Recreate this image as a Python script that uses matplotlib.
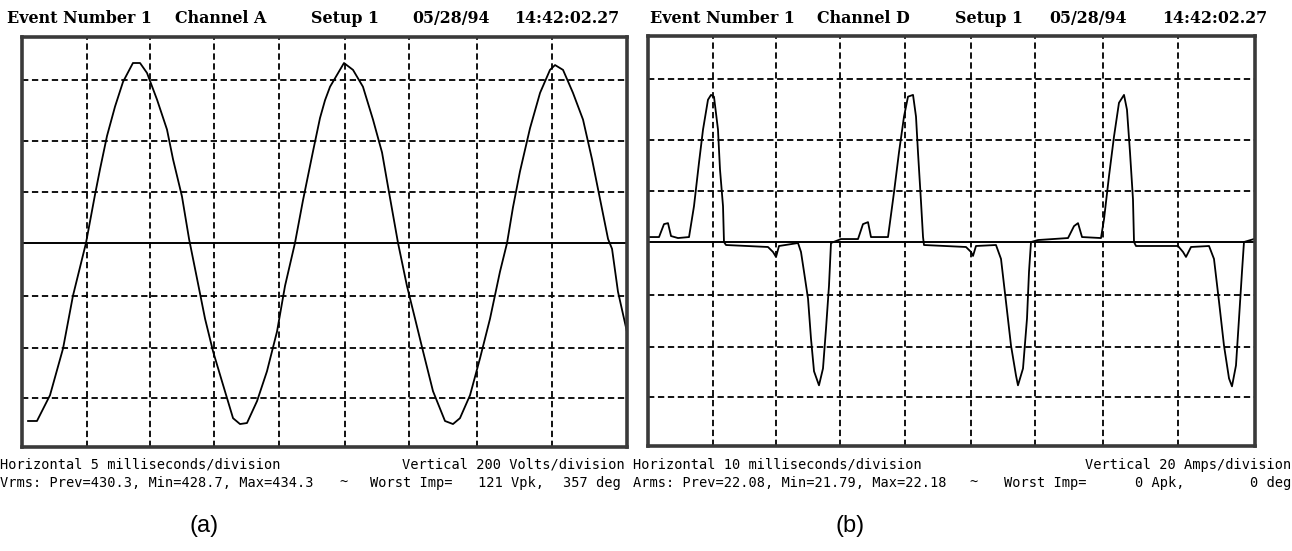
import numpy as np
import matplotlib
matplotlib.use('Agg')
import matplotlib.pyplot as plt

# --- Dados ---
# (a) tensao, canal A: tempo em ms, tensao em V (200 V/div, 5 ms/div)
tempo_a = [0.47, 1.16, 2.17, 3.18, 3.95, 4.96, 5.66, 6.05, 6.59, 7.21, 7.83, 8.60,
           9.15, 9.69, 10.47, 11.24, 11.71, 12.40, 12.95, 13.57, 14.19, 14.81, 15.50,
           16.36, 16.90, 17.44, 18.22, 18.99, 19.77, 20.39, 21.16, 21.78, 22.56, 23.10,
           23.49, 23.88, 24.96, 25.66, 26.43, 27.21, 27.91, 28.37, 29.15, 29.84, 30.47,
           31.09, 31.86, 32.79, 33.41, 33.95, 34.73, 35.50, 36.28, 37.05, 37.60, 38.06,
           38.60, 39.38, 40.16, 40.93, 41.32, 41.94, 42.71, 43.49, 44.19, 44.81, 45.43,
           45.74, 46.20, 46.98]
tensao_a = [-698, -698, -597, -414, -207, 0, 190, 290, 420, 535, 632, 706,
            706, 667, 562, 445, 328, 183, 16, -140, -297, -425, -542,
            -687, -710, -706, -620, -503, -347, -168, 0, 167, 360, 490,
            560, 613, 706, 679, 613, 484, 355, 222, 0, -168, -297,
            -425, -581, -698, -710, -687, -597, -453, -297, -113, 0, 140,
            280, 450, 589, 679, 698, 679, 589, 484, 328, 172, 16,
            -23, -191, -367]

# (b) corrente, canal D: tempo em ms, corrente em A (20 A/div, 10 ms/div)
tempo_b = [0.00, 1.71, 2.48, 3.10, 3.57, 4.65, 6.36, 7.13, 7.91, 8.53, 9.30, 9.77,
           10.23, 10.85, 11.16, 11.63, 11.78, 12.09, 18.60, 19.38, 19.85, 20.31, 23.26,
           23.72, 24.19, 24.81, 25.27, 25.74, 26.51, 27.13, 27.60, 28.06, 28.37, 29.92,
           32.56, 33.33, 34.11, 34.57, 37.21, 38.14, 38.91, 39.69, 40.31, 41.09, 41.55,
           41.86, 42.33, 42.64, 42.79, 49.30, 50.08, 50.39, 50.85, 53.95, 54.73, 55.50,
           56.28, 57.05, 57.36, 58.14, 58.76, 59.07, 59.38, 60.47, 65.12, 66.05, 66.67,
           67.29, 70.23, 70.70, 71.47, 72.25, 73.02, 73.80, 74.26, 74.73, 75.19, 75.35,
           75.66, 82.17, 82.95, 83.41, 84.19, 86.98, 87.75, 88.53, 89.30, 90.08, 90.54,
           91.16, 91.63, 92.09, 92.40, 93.95]
corrente_b = [1.95, 1.95, 7.02, 7.41, 2.34, 1.56, 1.95, 14.05, 31.2, 44.1, 55.8, 57.7,
              57.0, 44.1, 28.5, 14.05, 0.0, -1.17, -1.95, -3.90, -5.85, -1.56, -0.39,
              -3.90, -11.7, -22.2, -37.9, -50.7, -56.2, -49.6, -33.9, -17.2, -0.39, 1.17,
              1.17, 7.02, 7.80, 1.95, 1.95, 19.5, 35.1, 49.2, 57.0, 57.7, 49.2,
              35.1, 15.6, 1.95, -1.17, -1.95, -3.90, -5.46, -1.56, -1.17, -6.63, -23.4,
              -40.6, -52.3, -56.2, -49.6, -30.0, -11.7, 0.0, 0.78, 1.56, 6.24, 7.41,
              1.95, 1.56, 8.97, 25.8, 41.4, 54.6, 57.7, 51.9, 35.1, 16.8, 0.0,
              -1.56, -1.56, -3.90, -5.85, -1.95, -1.56, -6.63, -23.4, -40.6, -53.5, -56.6,
              -48.4, -30.0, -11.7, 0.0, 1.17]

cabecalho_a = ['Event Number 1', 'Channel A', 'Setup 1', '05/28/94', '14:42:02.27']
cabecalho_b = ['Event Number 1', 'Channel D', 'Setup 1', '05/28/94', '14:42:02.27']

rodape_a = ['Horizontal 5 milliseconds/division', 'Vertical 200 Volts/division',
            'Vrms: Prev=430.3, Min=428.7, Max=434.3', '~', 'Worst Imp=', '121 Vpk,', '357 deg']
rodape_b = ['Horizontal 10 milliseconds/division', 'Vertical 20 Amps/division',
            'Arms: Prev=22.08, Min=21.79, Max=22.18', '~', 'Worst Imp=', '0 Apk,', '0 deg']

# --- Layout (pixels da figura 1292x551) ---
W, H = 1292, 551
# posicao das linhas de grade em divisoes (a digitalizacao nao e regular)
GRADE_X_DIV = [1.0, 1.98, 2.97, 3.98, 5.0, 6.0, 7.06, 8.21]
GRADE_Y_DIV = [3.2, 2.0, 1.0, -1.03, -2.05, -3.04]


def px_ax(x0, y0, x1, y1):
    return [x0 / W, 1 - y1 / H, (x1 - x0) / W, (y1 - y0) / H]


def desenha_painel(ax, t, v, ms_div, un_div, largura_div):
    ax.plot(t, v, color='black', lw=1.3, solid_joinstyle='round')
    ax.set_xlim(0, largura_div * ms_div)
    ax.set_ylim(-4.0 * un_div, 4.04 * un_div)
    for gx in GRADE_X_DIV:
        ax.axvline(gx * ms_div, color='black', lw=1.3, ls=(0, (3.5, 2)), zorder=1)
    for gy in GRADE_Y_DIV:
        ax.axhline(gy * un_div, color='black', lw=1.3, ls=(0, (3.5, 2)), zorder=1)
    ax.axhline(0, color='black', lw=1.4, zorder=1)
    ax.set_xticks([])
    ax.set_yticks([])
    for s in ax.spines.values():
        s.set_color('#3a3a3a')
        s.set_linewidth(2.6)


fig = plt.figure(figsize=(W / 100, H / 100), dpi=100)

ax_a = fig.add_axes(px_ax(22, 37, 627, 447))
desenha_painel(ax_a, tempo_a, tensao_a, 5, 200, 605 / 64.5)

ax_b = fig.add_axes(px_ax(648, 36, 1255, 446))
desenha_painel(ax_b, tempo_b, corrente_b, 10, 20, 607 / 64.5)

# cabecalhos
fonte_cab = dict(family='DejaVu Serif', weight='bold', fontsize=11.4, va='baseline')
for txt, x in zip(cabecalho_a, [7, 175, 311, 412, 514]):
    fig.text(x / W, 1 - 23 / H, txt, **fonte_cab)
for txt, x in zip(cabecalho_b, [650, 817, 955, 1049, 1162]):
    fig.text(x / W, 1 - 23 / H, txt, **fonte_cab)

# rodapes
fonte_rod = dict(family='DejaVu Sans Mono', fontsize=9.8, va='center')
posicoes = [(rodape_a, 0, 625, 344, 370, 478, 621),
            (rodape_b, 633, 1291, 973, 1004, 1135, 1291)]
for rod, x0, x1, xt, xw, xv, xd in posicoes:
    fig.text(x0 / W, 1 - 465 / H, rod[0], ha='left', **fonte_rod)
    fig.text(x1 / W, 1 - 465 / H, rod[1], ha='right', **fonte_rod)
    fig.text(x0 / W, 1 - 483 / H, rod[2], ha='left', **fonte_rod)
    fig.text(xt / W, 1 - 483 / H, rod[3], ha='center', **fonte_rod)
    fig.text(xw / W, 1 - 483 / H, rod[4], ha='left', **fonte_rod)
    fig.text(xv / W, 1 - 483 / H, rod[5], ha='left', **fonte_rod)
    fig.text(xd / W, 1 - 483 / H, rod[6], ha='right', **fonte_rod)

fig.text(204 / W, 1 - 526 / H, '(a)', family='Liberation Sans', fontsize=17,
         ha='center', va='center')
fig.text(850 / W, 1 - 526 / H, '(b)', family='Liberation Sans', fontsize=17,
         ha='center', va='center')

fig.savefig('out.png', dpi=100)
